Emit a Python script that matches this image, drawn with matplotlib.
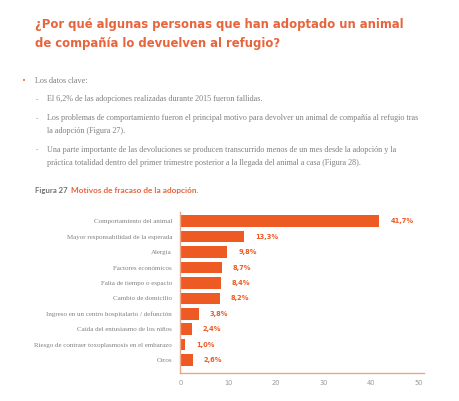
import matplotlib
matplotlib.use("Agg")
import matplotlib.pyplot as plt

categories = [
    "Comportamiento del animal",
    "Mayor responsabilidad de la esperada",
    "Alergia",
    "Factores económicos",
    "Falta de tiempo o espacio",
    "Cambio de domicilio",
    "Ingreso en un centro hospitalario / defunción",
    "Caída del entusiasmo de los niños",
    "Riesgo de contraer toxoplasmosis en el embarazo",
    "Otros",
]
values = [41.7, 13.3, 9.8, 8.7, 8.4, 8.2, 3.8, 2.4, 1.0, 2.6]
value_labels = ["41,7%", "13,3%", "9,8%", "8,7%", "8,4%", "8,2%", "3,8%", "2,4%", "1,0%", "2,6%"]
xticks = [0, 10, 20, 30, 40, 50]

title_lines = ["¿Por qué algunas personas que han adoptado un animal",
               "de compañía lo devuelven al refugio?"]
bullet = "Los datos clave:"
dash_items = [
    ["El 6,2% de las adopciones realizadas durante 2015 fueron fallidas."],
    ["Los problemas de comportamiento fueron el principal motivo para devolver un animal de compañía al refugio tras",
     "la adopción (Figura 27)."],
    ["Una parte importante de las devoluciones se producen transcurrido menos de un mes desde la adopción y la",
     "práctica totalidad dentro del primer trimestre posterior a la llegada del animal a casa (Figura 28)."],
]
fig_label = "Figura 27"
fig_caption = "Motivos de fracaso de la adopción."

ORANGE = "#EE5A24"
TITLE_C = "#E8643C"
GRAY = "#808080"
SPINE = "#EBA58A"

W, H = 460, 401
fig = plt.figure(figsize=(W / 100, H / 100), dpi=100)
fig.patch.set_facecolor("white")
renderer = fig.canvas.get_renderer()

def fx(px):
    return px / W

def fy(py):
    return 1 - py / H

def fit(t, target_w):
    w = t.get_window_extent(renderer).width
    t.set_fontsize(t.get_fontsize() * target_w / w)

# Title
title_font = dict(family="DejaVu Sans", weight="bold", color=TITLE_C, fontsize=9)
t1 = fig.text(fx(35), fy(28), title_lines[0], va="baseline", ha="left", **title_font)
fit(t1, 367)
fig.text(fx(35), fy(46.5), title_lines[1], va="baseline", ha="left",
         family="DejaVu Sans", weight="bold", color=TITLE_C, fontsize=t1.get_fontsize())

body_font = dict(family="Liberation Serif", color=GRAY, fontsize=5.3)
fig.text(fx(22), fy(81), "•", va="center", ha="left", color=TITLE_C, fontsize=5)
tb = fig.text(fx(35), fy(81), bullet, va="center", ha="left", **body_font)

ys = [[99.3], [118.3, 131.0], [150.0, 163.3]]
texts = []
for lines, yy in zip(dash_items, ys):
    fig.text(fx(36), fy(yy[0]), "-", va="center", ha="left", **body_font)
    for line, y in zip(lines, yy):
        texts.append(fig.text(fx(47), fy(y), line, va="center", ha="left", **body_font))
w = texts[1].get_window_extent(renderer).width
bsize = 5.3 * 376 / w
for t in texts + [tb]:
    t.set_fontsize(bsize)

cap_font = dict(family="Lato", weight="bold", fontsize=5.6)
fig.text(fx(35), fy(190), fig_label, va="center", ha="left", color="#707070", **cap_font)
tc = fig.text(fx(71.5), fy(190), fig_caption, va="center", ha="left", color=TITLE_C, **cap_font)
fit(tc, 126.5)

# Axes
x0, x1 = 0, 51
px_per_unit = 4.77
left_px = 180.5
ax_w = (x1 - x0) * px_per_unit
top_px, bot_px = 212, 373
ax = fig.add_axes([fx(left_px), fy(bot_px), fx(ax_w), (bot_px - top_px) / H])

pos = list(range(len(categories)))
ax.barh(pos, values, height=0.75, color=ORANGE)
ax.set_ylim(9.84, -0.6)
ax.set_xlim(x0, x1)
ax.set_yticks(pos)
ax.set_yticklabels(categories, family="Liberation Serif", fontsize=5.0, color=GRAY)
ax.set_xticks(xticks)
ax.set_xticklabels([str(t) for t in xticks], family="DejaVu Sans", fontsize=4.8, color="#999999")
ax.tick_params(axis="both", length=0)
ax.tick_params(axis="y", pad=6)
ax.tick_params(axis="x", pad=5)
for s in ["top", "right"]:
    ax.spines[s].set_visible(False)
for s in ["left", "bottom"]:
    ax.spines[s].set_color(SPINE)
    ax.spines[s].set_linewidth(1.0)

for p, v, lab in zip(pos, values, value_labels):
    ax.annotate(lab, (v, p), xytext=(11, 0), textcoords="offset pixels",
                va="center", ha="left", family="DejaVu Sans", weight="bold",
                fontsize=4.8, color=ORANGE)

fig.savefig("out.png", dpi=100)
